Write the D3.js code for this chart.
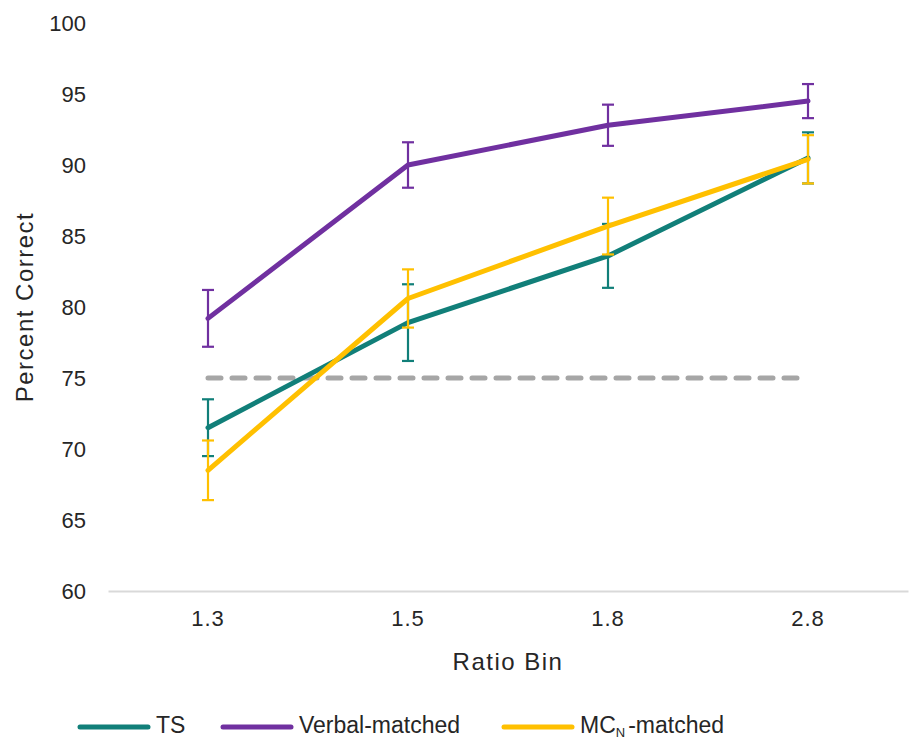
<!DOCTYPE html>
<html lang="en">
<head>
<meta charset="utf-8">
<title>Percent Correct by Ratio Bin</title>
<style>
  body { margin: 0; background: #fff; }
  text { font-family: "Liberation Sans", Arial, sans-serif; fill: #262626; }
</style>
</head>
<body>
<script src="https://d3js.org/d3.v7.min.js"></script>
<script>

var bins = ["1.3", "1.5", "1.8", "2.8"];
var yTicks = [60, 65, 70, 75, 80, 85, 90, 95, 100];

var tsValues = [71.5, 78.9, 83.6, 90.5];
var tsErr = [2.0, 2.7, 2.25, 1.8];
var verbalValues = [79.2, 90.0, 92.8, 94.5];
var verbalErr = [2.0, 1.6, 1.45, 1.2];
var mcnValues = [68.5, 80.6, 85.7, 90.4];
var mcnErr = [2.1, 2.05, 2.0, 1.7];
var chanceValues = [75, 75, 75, 75];

var series = [
    {name: "TS", values: tsValues, err: tsErr, color: "#117f79"},
    {name: "Verbal-matched", values: verbalValues, err: verbalErr, color: "#7030a0"},
    {name: "MCN-matched", values: mcnValues, err: mcnErr, color: "#ffc000"}
];

var margin = {top: 23, right: 1, bottom: 148, left: 108},
    width = 909 - margin.left - margin.right,
    height = 739 - margin.top - margin.bottom;

var svg = d3.select("body").append("svg")
    .attr("width", 909)
    .attr("height", 739);

var g = svg.append("g")
    .attr("transform", "translate(" + margin.left + "," + margin.top + ")");

var xScale = d3.scaleBand()
    .range([0, width])
    .domain(bins);

var yScale = d3.scaleLinear()
    .range([height, 0])
    .domain([60, 100]);

function cx(i) { return xScale(bins[i]) + xScale.bandwidth() / 2; }

// y axis labels (no axis line)
var yAxis = d3.axisLeft(yScale).tickValues(yTicks).tickSize(0).tickPadding(22);
var yAxisGroup = g.append("g").call(yAxis);
yAxisGroup.select(".domain").remove();
yAxisGroup.selectAll("text")
    .style("font-size", "22px")
    .style("font-family", "Liberation Sans, Arial, sans-serif")
    .attr("fill", "#262626");

// x axis
var xAxis = d3.axisBottom(xScale).tickSize(0).tickPadding(19);
var xAxisGroup = g.append("g")
    .attr("transform", "translate(0," + height + ")")
    .call(xAxis);
xAxisGroup.select(".domain").attr("stroke", "#d9d9d9").attr("stroke-width", 2);
xAxisGroup.selectAll("text")
    .style("font-size", "22px")
    .style("letter-spacing", "1px")
    .style("font-family", "Liberation Sans, Arial, sans-serif")
    .attr("fill", "#262626");

// axis titles
svg.append("text")
    .attr("x", margin.left + width / 2)
    .attr("y", 670)
    .attr("text-anchor", "middle")
    .style("font-size", "24px")
    .style("letter-spacing", "1.5px")
    .text("Ratio Bin");

svg.append("text")
    .attr("transform", "translate(33," + 307 + ") rotate(-90)")
    .attr("text-anchor", "middle")
    .style("font-size", "24px")
    .style("letter-spacing", "1.5px")
    .text("Percent Correct");

var line = d3.line()
    .x(function(d, i) { return cx(i); })
    .y(function(d) { return yScale(d); });

// chance line
g.append("path")
    .datum(chanceValues)
    .attr("d", line)
    .attr("fill", "none")
    .attr("stroke", "#a6a6a6")
    .attr("stroke-width", 5)
    .attr("stroke-linecap", "round")
    .attr("stroke-dasharray", "13,11");

series.forEach(function(s) {
    var eb = g.append("g");
    s.values.forEach(function(v, i) {
        var x = cx(i), top = yScale(v + s.err[i]), bot = yScale(v - s.err[i]);
        eb.append("line").attr("x1", x).attr("x2", x).attr("y1", top).attr("y2", bot);
        eb.append("line").attr("x1", x - 6).attr("x2", x + 6).attr("y1", top).attr("y2", top);
        eb.append("line").attr("x1", x - 6).attr("x2", x + 6).attr("y1", bot).attr("y2", bot);
    });
    eb.selectAll("line").attr("stroke", s.color).attr("stroke-width", 2.2);

    g.append("path")
        .datum(s.values)
        .attr("d", line)
        .attr("fill", "none")
        .attr("stroke", s.color)
        .attr("stroke-width", 5)
        .attr("stroke-linejoin", "round")
        .attr("stroke-linecap", "round");
});

// legend
var legendX = [80, 223, 504];
var legend = svg.append("g");
series.forEach(function(s, i) {
    legend.append("line")
        .attr("x1", legendX[i]).attr("x2", legendX[i] + 68)
        .attr("y1", 727).attr("y2", 727)
        .attr("stroke", s.color)
        .attr("stroke-width", 5)
        .attr("stroke-linecap", "round");
    var t = legend.append("text")
        .attr("x", legendX[i] + 76)
        .attr("y", 733)
        .style("font-size", "23px");
    if (s.name === "MCN-matched") {
        t.append("tspan").text("MC");
        t.append("tspan").attr("dy", 4).style("font-size", "13px").text("N");
        t.append("tspan").attr("dy", -4).attr("dx", 3).text("-matched");
    } else {
        t.text(s.name);
    }
});

</script>
</body>
</html>
